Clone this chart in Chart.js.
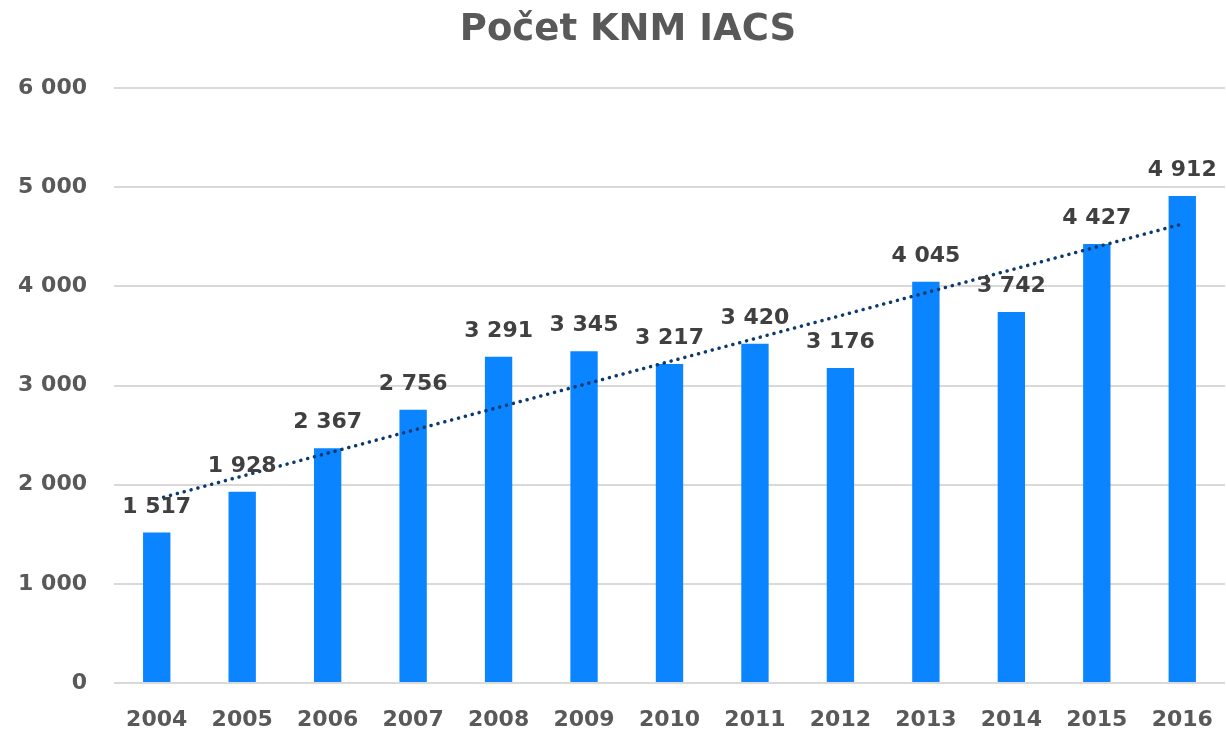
<!DOCTYPE html>
<html>
<head>
<meta charset="utf-8">
<script src="https://cdn.jsdelivr.net/npm/chart.js@4/dist/chart.umd.min.js"></script>
<style>
  html, body { margin: 0; padding: 0; background: #fff; }
</style>
</head>
<body>
<canvas id="knm" width="1226" height="730"></canvas>
<script>
const years = ['2004','2005','2006','2007','2008','2009','2010','2011','2012','2013','2014','2015','2016'];
const counts = [1517, 1928, 2367, 2756, 3291, 3345, 3217, 3420, 3176, 4045, 3742, 4427, 4912];
// trend line ends (first and last year)
const trendEnds = [1855, 4629];
const yTicks = [0, 1000, 2000, 3000, 4000, 5000, 6000];

const fmt = (v) => String(v).replace(/\B(?=(\d{3})+(?!\d))/g, ' ');

const trend = years.map((y, i) => i === 0 ? trendEnds[0] : (i === years.length - 1 ? trendEnds[1] : null));

const FONT = '"DejaVu Sans", "Liberation Sans", Arial, sans-serif';

// title + value labels
const extras = {
  id: 'extras',
  afterDatasetsDraw(chart) {
    const ctx = chart.ctx;
    ctx.save();
    ctx.fillStyle = '#404040';
    ctx.font = 'bold 22px ' + FONT;
    ctx.textAlign = 'center';
    ctx.textBaseline = 'alphabetic';
    chart.getDatasetMeta(0).data.forEach((bar, i) => {
      ctx.fillText(fmt(counts[i]), bar.x, bar.y - 20);
    });
    ctx.fillStyle = '#595959';
    ctx.font = 'bold 37px ' + FONT;
    ctx.textBaseline = 'middle';
    ctx.fillText('Počet KNM IACS', 628, 30);
    ctx.restore();
  }
};

new Chart(document.getElementById('knm'), {
  type: 'bar',
  data: {
    labels: years,
    datasets: [
      {
        label: 'Počet KNM',
        data: counts,
        backgroundColor: '#0a84ff',
        barPercentage: 0.32,
        categoryPercentage: 1,
        order: 2
      },
      {
        type: 'line',
        label: 'Trend',
        data: trend,
        spanGaps: true,
        borderColor: '#0b3a6e',
        borderWidth: 3.5,
        borderDash: [0.1, 7],
        borderCapStyle: 'round',
        pointRadius: 0,
        fill: false,
        order: 1
      }
    ]
  },
  options: {
    responsive: false,
    animation: false,
    layout: { padding: { top: 88, right: 1, left: 0, bottom: 0 } },
    plugins: {
      legend: { display: false },
      tooltip: { enabled: false },
      title: { display: false }
    },
    scales: {
      x: {
        grid: { display: false, drawTicks: false },
        border: { display: false },
        ticks: {
          color: '#595959',
          font: { family: FONT, size: 22, weight: 'bold' },
          padding: 24,
          maxRotation: 0
        },
        afterFit(scale) {
          scale.height = 47;
          scale.paddingLeft = 0;
          scale.paddingRight = 0;
        }
      },
      y: {
        min: 0,
        max: 6000,
        afterBuildTicks(scale) { scale.ticks = yTicks.map(v => ({ value: v })); },
        grid: { color: '#d9d9d9', lineWidth: 2, drawTicks: false },
        border: { display: false },
        ticks: {
          color: '#595959',
          font: { family: FONT, size: 22, weight: 'bold' },
          padding: 27,
          callback: (v) => fmt(v)
        },
        afterFit(scale) { scale.width = 114; }
      }
    }
  },
  plugins: [extras]
});
</script>
</body>
</html>
